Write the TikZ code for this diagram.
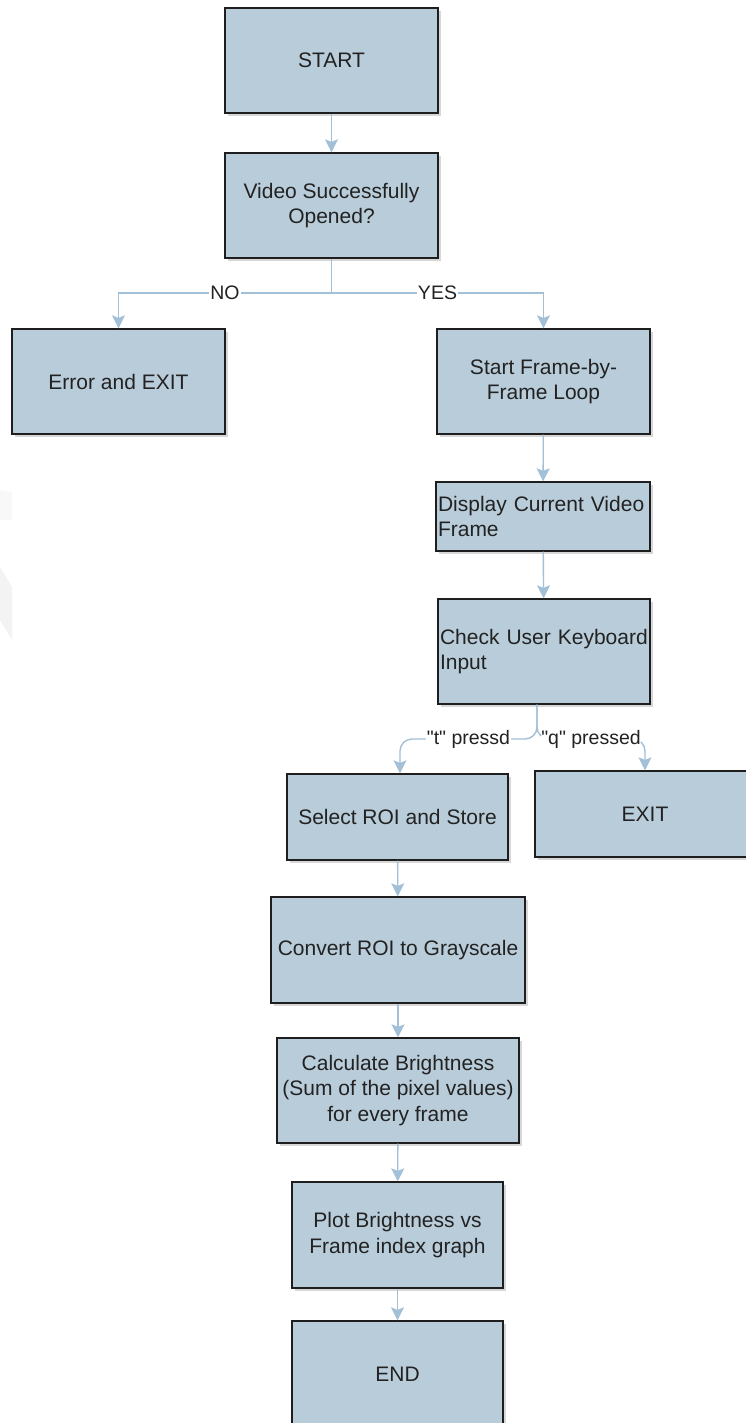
\documentclass[tikz,border=0pt]{standalone}
\usepackage{fontspec}
\setmainfont{Liberation Sans}
\newfontfamily\lblfont{Liberation Sans}
\usetikzlibrary{shadows,arrows.meta}
\definecolor{boxfill}{RGB}{185,204,218}
\definecolor{boxdraw}{RGB}{30,30,30}
\definecolor{conncol}{RGB}{163,192,214}
\definecolor{txt}{RGB}{34,34,34}
\definecolor{wmA}{RGB}{243,243,243}
\definecolor{wmB}{RGB}{248,248,248}
\tikzset{
  box/.style={draw=boxdraw, line width=1.3pt, fill=boxfill, text=txt,
    font=\fontsize{21}{25.5}\selectfont, align=center, inner sep=2pt,
    drop shadow={shadow xshift=3pt, shadow yshift=-3pt, opacity=0.22, fill=black!70}},
  cline/.style={draw=conncol, line width=1.4pt},
  conn/.style={cline, -{Stealth[length=13pt,width=13pt,inset=2.5pt]}},
  lbl/.style={fill=white, text=txt, font=\lblfont\fontsize{19.5}{22}\selectfont, inner sep=1pt},
}
\begin{document}
\begin{tikzpicture}[x=1pt,y=-1pt]
\useasboundingbox (0,0) rectangle (746,1423);
\clip (0,0) rectangle (746,1423);
\fill[white] (0,0) rectangle (746,1423);
% faint watermark at left edge
\fill[wmB] (0,490) -- (12,492) -- (12,520) -- (0,520) -- cycle;
\fill[wmA] (0,567) -- (12,587) -- (12,640) -- (0,620) -- cycle;

% nodes
\node[box, minimum width=213pt, minimum height=105pt] (start) at (331.5,60.5) {START};
\node[box, minimum width=213pt, minimum height=105pt] (video) at (331.5,205.5) {Video Successfully\\Opened?};
\node[box, minimum width=213pt, minimum height=105pt] (err) at (118.5,381.5) {Error and EXIT};
\node[box, minimum width=213pt, minimum height=105pt] (loop) at (543.5,381.5) {Start Frame-by-\\Frame Loop};
\node[box, text width=210pt, align=left, minimum height=69pt] (disp) at (543,516.5) {Display Current Video\\Frame};
\node[box, text width=208pt, align=left, minimum height=105pt] (check) at (544,651.5) {Check User Keyboard\\Input};
\node[box, minimum width=221pt, minimum height=86pt] (sel) at (397.5,817) {Select ROI and Store};
\node[box, minimum width=220pt, minimum height=86pt] (exitb) at (645,814) {EXIT};
\node[box, minimum width=254pt, minimum height=106pt] (conv) at (398,950) {Convert ROI to Grayscale};
\node[box, minimum width=242pt, minimum height=105pt] (calc) at (398,1090.5) {Calculate Brightness\\(Sum of the pixel values)\\for every frame};
\node[box, minimum width=211pt, minimum height=106pt] (plot) at (397.5,1235) {Plot Brightness vs\\Frame index graph};
\node[box, minimum width=211pt, minimum height=106pt] (endb) at (397.5,1374) {END};

% connectors
\coordinate (brc) at (331.5,293);
\coordinate (tj) at (537,739);
\draw[conn] (start) -- (video);
\draw[cline] (video.south) -- (brc);
\draw[conn] (brc) -| node[lbl, pos=0.25] {NO} (err.north);
\draw[conn] (brc) -| node[lbl, pos=0.25] {YES} (loop.north);
\draw[conn] (loop) -- (disp);
\draw[conn] (disp) -- (check);
\draw[conn, rounded corners=12pt] ([xshift=-7pt]check.south) -- (tj) -| node[lbl, pos=0.25] {"t" pressd} ([xshift=2.5pt]sel.north);
\draw[conn, rounded corners=12pt] ([xshift=-7pt]check.south) -- (tj) -| node[lbl, pos=0.25] {"q" pressed} (exitb.north);
\draw[conn] (sel) -- (conv);
\draw[conn] (conv) -- (calc);
\draw[conn] (calc) -- (plot);
\draw[conn] (plot) -- (endb);
\end{tikzpicture}
\end{document}
